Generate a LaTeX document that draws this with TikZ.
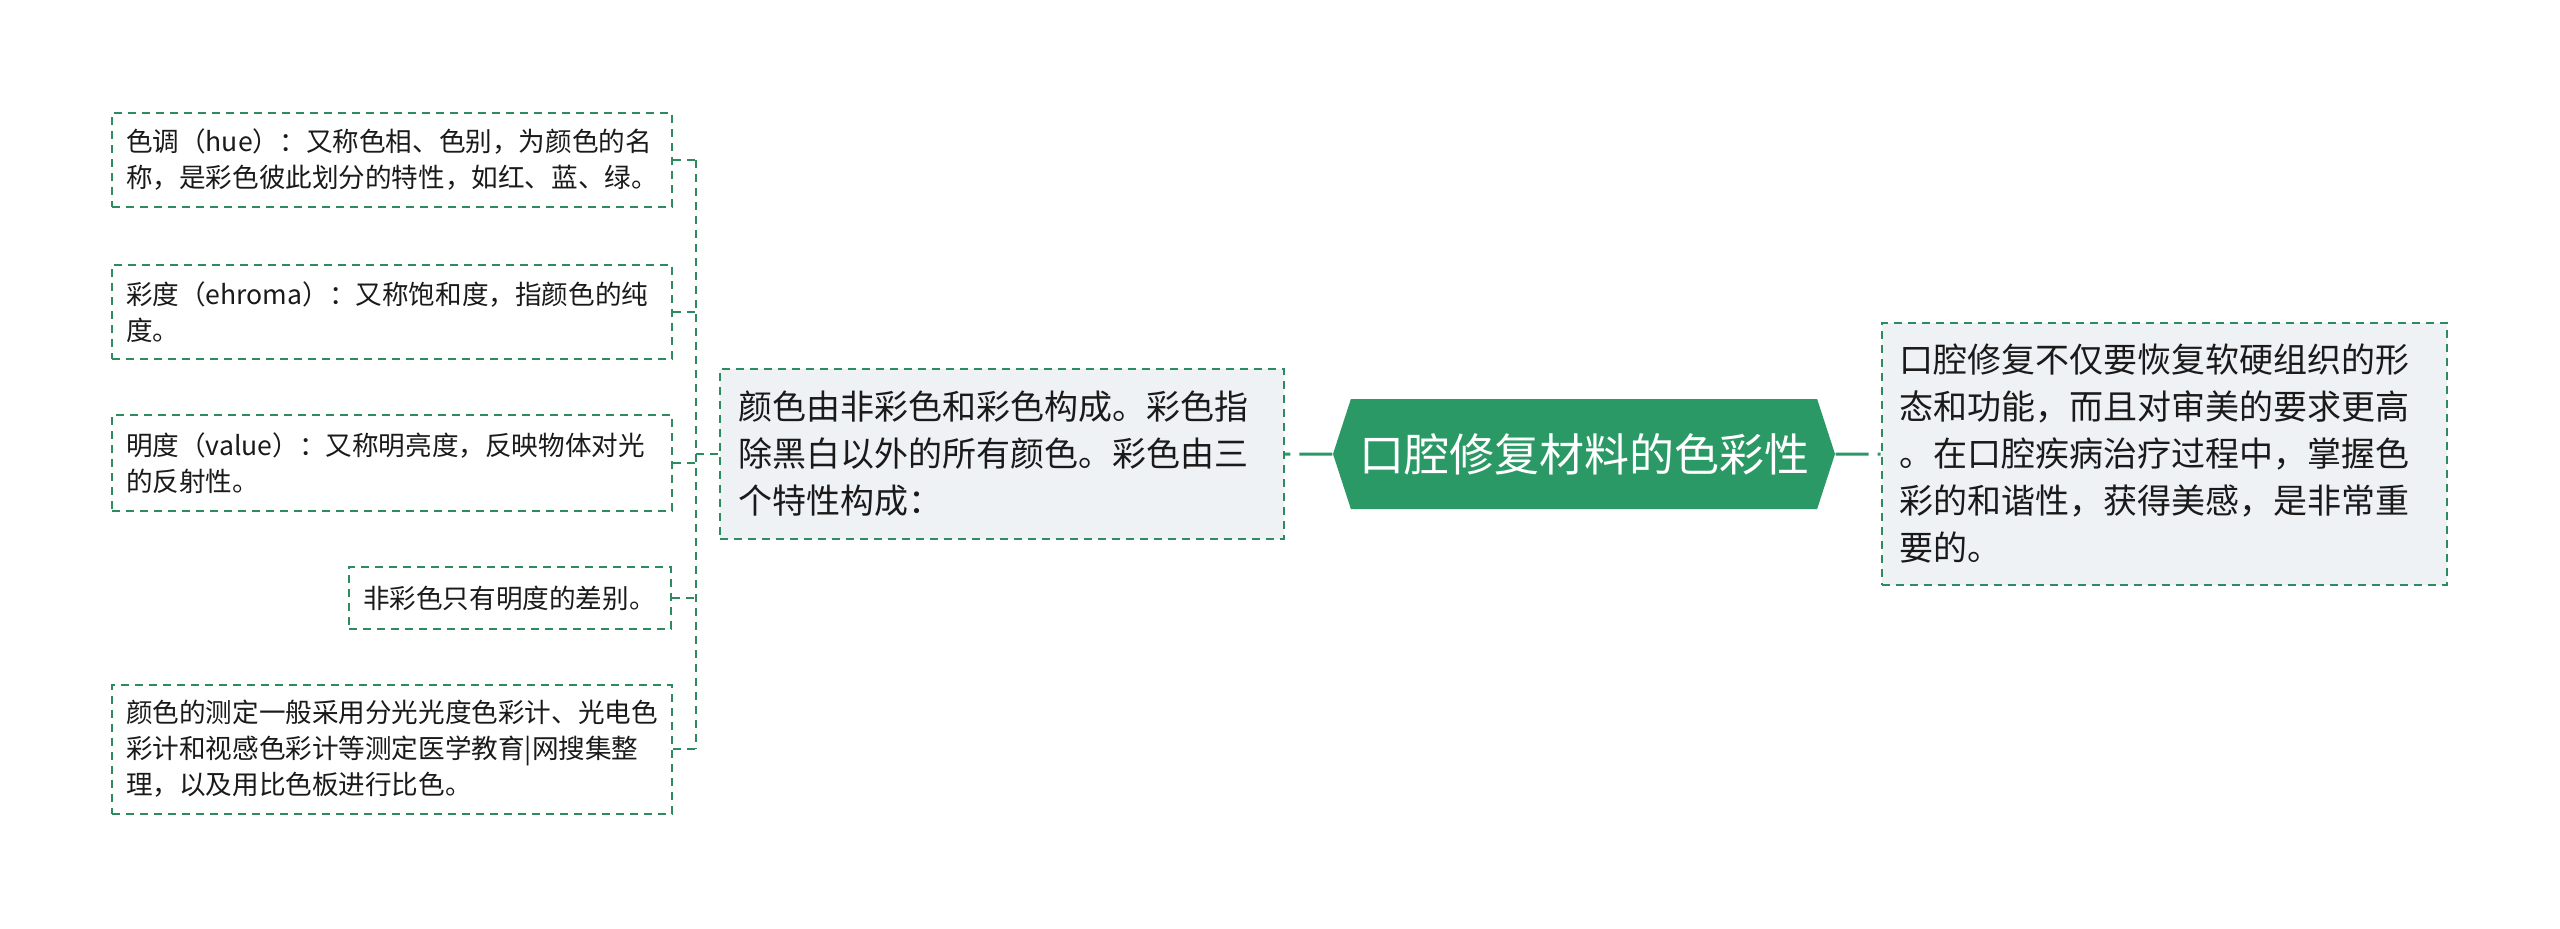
\documentclass[tikz,border=0pt]{standalone}
\usepackage{fontspec}
\setmainfont{Noto Sans CJK SC}
\usetikzlibrary{shapes.symbols}
\newcommand\PX{0.5pt}
\definecolor{mapgreen}{RGB}{43,153,102}
\definecolor{linegreen}{RGB}{46,139,95}
\definecolor{boxfill}{RGB}{239,242,245}
\definecolor{inktext}{RGB}{26,26,26}

\begin{document}
\begin{tikzpicture}[x=\PX,y=-\PX,semithick]

  \tikzstyle{leaf}=[rectangle,draw=linegreen,line width=1pt,dash pattern=on 4pt off 3pt,
                    fill=white,text=inktext,align=left,inner xsep=7pt,inner ysep=0pt,
                    font=\fontsize{13.3pt}{18pt}\selectfont]
  \tikzstyle{topic}=[leaf,fill=boxfill,inner xsep=9pt,text width=264pt,minimum height=85pt,
                     font=\fontsize{17pt}{23.5pt}\selectfont]
  \tikzstyle{core}=[signal,signal to=east and west,signal pointer angle=144,fill=mapgreen,
                    text=white,minimum width=251pt,minimum height=55pt,inner sep=0pt,
                    font=\fontsize{22.5pt}{27pt}\selectfont]
  \tikzstyle{link}=[draw=linegreen,line width=1pt,dash pattern=on 4pt off 3pt]
  \tikzstyle{trunk}=[draw=mapgreen,line width=1.5pt,
                     dash pattern=on 16.5pt off 4.5pt on 3.5pt off 20pt]

  \path[fill=white] (0,0) rectangle (2560,928);

  \node[leaf,text width=266pt,minimum height=47pt] (hue) at (392,160)
    {色调（hue）：又称色相、色别，为颜色的名\\称，是彩色彼此划分的特性，如红、蓝、绿。};
  \node[leaf,text width=266pt,minimum height=47pt] (chroma) at (392,312)
    {彩度（ehroma）：又称饱和度，指颜色的纯\\度。};
  \node[leaf,text width=266pt,minimum height=48pt] (value) at (392,463)
    {明度（value）：又称明亮度，反映物体对光\\的反射性。};
  \node[leaf,text width=147pt,minimum height=31pt] (achrom) at (510,598)
    {非彩色只有明度的差别。};
  \node[leaf,text width=266pt,minimum height=64.5pt] (measure) at (392,749)
    {颜色的测定一般采用分光光度色彩计、光电色\\彩计和视感色彩计等测定医学教育|网搜集整\\理，以及用比色板进行比色。};

  \node[topic] (main) at (1002,454)
    {颜色由非彩色和彩色构成。彩色指\\除黑白以外的所有颜色。彩色由三\\个特性构成：};
  \node[core] (core) at (1584,454) {口腔修复材料的色彩性};
  \node[topic,text width=264.5pt,minimum height=131pt] (detail) at (2164,454)
    {口腔修复不仅要恢复软硬组织的形\\态和功能，而且对审美的要求更高\\。在口腔疾病治疗过程中，掌握色\\彩的和谐性，获得美感，是非常重\\要的。};

  \coordinate (fork) at (696,454);

  \foreach \leafname in {hue,chroma,value,achrom,measure}
    \draw[link] (\leafname.east) -- (\leafname.east -| fork);
  \draw[link] (hue.east -| fork) -- (measure.east -| fork);
  \draw[link] (fork) -- (main.west);

\path
(core) edge [trunk] (main)
(core) edge [trunk] (detail)
;
\end{tikzpicture}
\end{document}
